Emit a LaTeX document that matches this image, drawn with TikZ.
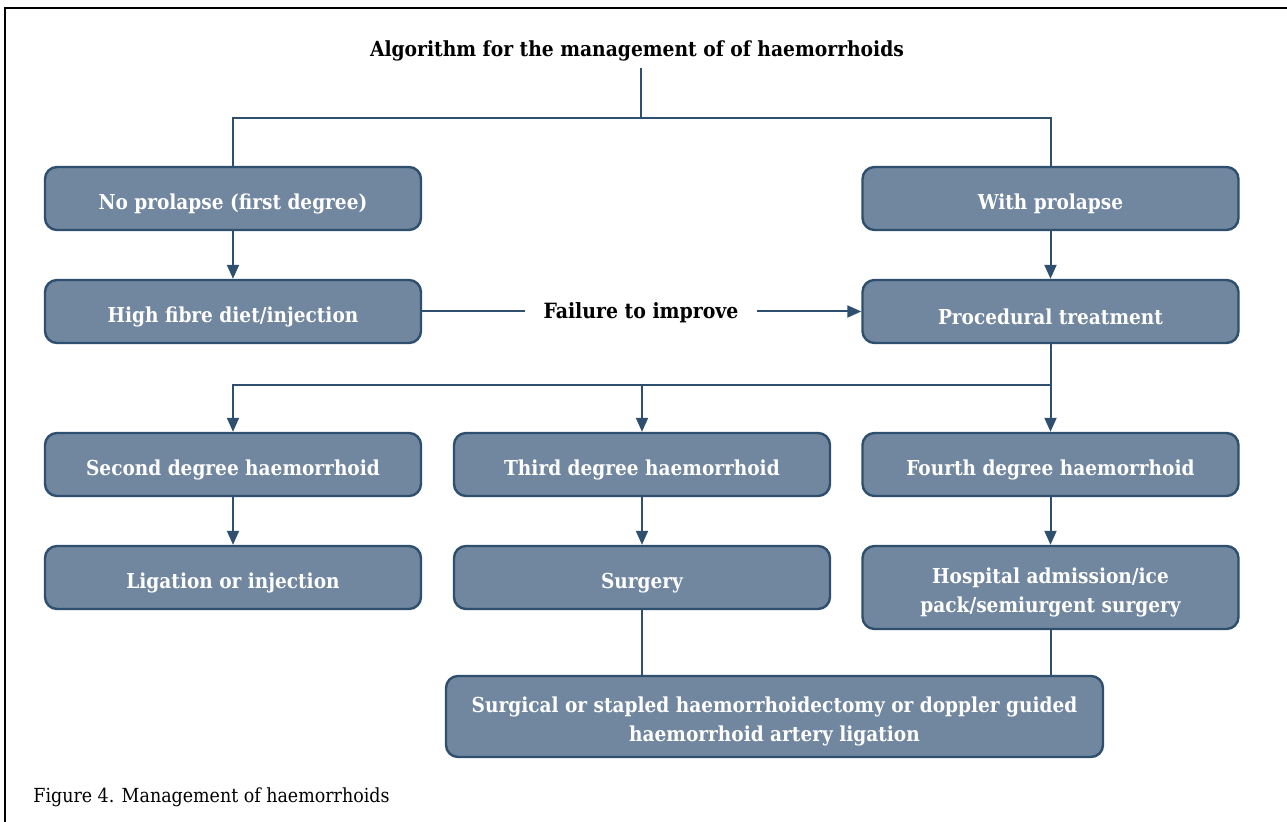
\documentclass[tikz,border=0pt]{standalone}
\usepackage{fontspec}
\setmainfont{DejaVu Serif Condensed}
\usetikzlibrary{arrows.meta}

\definecolor{boxfill}{RGB}{113,134,159}
\definecolor{boxline}{RGB}{47,79,111}
\newcommand{\highstrut}{\rule{0pt}{12.8pt}}

\tikzset{
  stepbox/.style={draw=boxline, line width=1.2pt, fill=boxfill, rounded corners=6pt,
    text=white, font=\bfseries\fontsize{10.3}{14.9}\selectfont, align=center,
    minimum width=188pt, minimum height=31.5pt, inner sep=2pt,
    execute at begin node={\highstrut}},
  conn/.style={draw=boxline, line width=1pt},
  arr/.style={conn, -{Triangle[width=6pt,length=7pt]}}
}

\begin{document}
\begin{tikzpicture}[x=0.5pt,y=-0.5pt]
  \useasboundingbox (0,0) rectangle (1287,822);

  % frame (top and left edge only)
  \draw[line width=1pt] (5,822) -- (5,8) -- (1287,8);

  % title
  \node[font=\bfseries\fontsize{10.4}{12}\selectfont] (title) at (637,51)
    {Algorithm for the management of of haemorrhoids};
  \coordinate (split1) at (641,118);

  % first level
  \def\colA{233}\def\colB{642}\def\colC{1050.5}
  \node[stepbox] (noprol) at (\colA,198.5) {No prolapse (first degree)};
  \node[stepbox] (withprol) at (\colC,198.5) {With prolapse};
  \node[stepbox] (fibre) at (\colA,311.5) {High fibre diet/injection};
  \node[stepbox] (proc) at (\colC,311.5) {Procedural treatment};
  \node[font=\bfseries\fontsize{10.5}{12}\selectfont, inner sep=9pt] (fail) at (641,313)
    {Failure to improve};

  % degrees
  \node[stepbox] (second) at (\colA,464.5) {Second degree haemorrhoid};
  \node[stepbox] (third) at (\colB,464.5) {Third degree haemorrhoid};
  \node[stepbox] (fourth) at (\colC,464.5) {Fourth degree haemorrhoid};
  \coordinate (split2) at (\colA,385);

  % treatment
  \node[stepbox] (ligation) at (\colA,577.5) {Ligation or injection};
  \node[stepbox] (surgery) at (\colB,577.5) {Surgery};
  \node[stepbox, minimum height=41.5pt] (hospital) at (\colC,587.5)
    {\highstrut Hospital admission/ice\\pack/semiurgent surgery};
  \node[stepbox, minimum width=328.5pt, minimum height=40.5pt] (final) at (774.5,716.5)
    {\highstrut Surgical or stapled haemorrhoidectomy or doppler guided\\haemorrhoid artery ligation};

  % caption
  \node[anchor=west, inner sep=0pt, font=\fontsize{9.7}{11}\selectfont] (caption) at (33,797)
    {Figure 4. Management of haemorrhoids};

  % connectors
  \draw[conn] (title.south -| split1) -- (split1);
  \draw[conn] (noprol.north) |- (split1) -| (withprol.north);
  \draw[arr] (noprol) -- (fibre);
  \draw[arr] (withprol) -- (proc);
  \draw[conn] (fibre.east) -- (fibre.east -| fail.west);
  \draw[arr] (fail.east |- proc.west) -- (proc.west);
  \draw[arr] (proc.south) |- (split2) -- (second.north);
  \draw[arr] (third.north |- split2) -- (third.north);
  \draw[arr] (fourth.north |- split2) -- (fourth.north);
  \draw[arr] (second) -- (ligation);
  \draw[arr] (third) -- (surgery);
  \draw[arr] (fourth) -- (hospital);
  \draw[conn] (surgery.south) -- (surgery.south |- final.north);
  \draw[conn] (hospital.south) -- (hospital.south |- final.north);

\end{tikzpicture}
\end{document}
